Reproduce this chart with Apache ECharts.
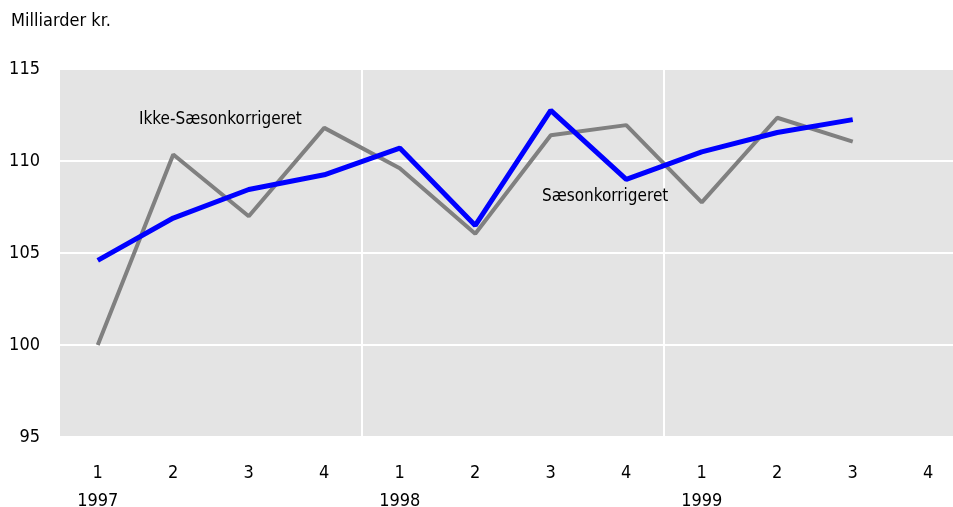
<!DOCTYPE html>
<html>
<head>
<meta charset="utf-8">
<script src="https://cdn.jsdelivr.net/npm/echarts@6/dist/echarts.min.js"></script>
<style>
  html, body { margin: 0; padding: 0; background: #fff; }
  #chart { width: 953px; height: 507px; }
</style>
</head>
<body>
<div id="chart"></div>
<script>
// kvartaler 1997-1999
const quarters = ['1', '2', '3', '4', '1', '2', '3', '4', '1', '2', '3', '4']
const years = ['1997', '', '', '', '1998', '', '', '', '1999', '', '', '']
const ikkeSaeson = [100.0, 110.35, 107.0, 111.8, 109.6, 106.05, 111.4, 111.95, 107.75, 112.35, 111.05, null]
const saeson = [104.6, 106.9, 108.45, 109.25, 110.7, 106.5, 112.75, 109.0, 110.5, 111.55, 112.25, null]

const font = "'Liberation Sans Narrow', 'DejaVu Sans Condensed', sans-serif"

const chart = echarts.init(document.getElementById('chart'))
chart.setOption({
  animation: false,
  textStyle: { fontFamily: font },
  grid: {
    left: 60,
    top: 69,
    width: 906,
    height: 368,
    containLabel: false,
    outerBoundsMode: 'none',
    show: true,
    backgroundColor: '#e4e4e4',
    borderWidth: 0
  },
  graphic: [
    { type: 'text', z: 100, left: 11, top: 12, style: { text: 'Milliarder kr.', font: '18px ' + font, fill: '#000' } },
    { type: 'text', z: 100, left: 139, top: 111, style: { text: 'Ikke-Sæsonkorrigeret', font: '17px ' + font, fill: '#000' } },
    { type: 'text', z: 100, left: 542, top: 188, style: { text: 'Sæsonkorrigeret', font: '17px ' + font, fill: '#000' } }
  ],
  xAxis: {
    type: 'category',
    data: quarters,
    boundaryGap: true,
    axisLine: { show: false },
    axisTick: { show: false },
    axisLabel: {
      margin: 22,
      color: '#000',
      formatter: (v, i) => years[i] ? '{q|' + v + '}\n{y|' + years[i] + '}' : '{q|' + v + '}',
      rich: {
        q: { fontSize: 18, lineHeight: 28, color: '#000', fontFamily: font },
        y: { fontSize: 18, lineHeight: 28, color: '#000', fontFamily: font }
      }
    },
    splitLine: {
      show: true,
      interval: (i) => i === 4 || i === 8,
      lineStyle: { color: '#fff', width: 2 }
    }
  },
  yAxis: {
    type: 'value',
    min: 95,
    max: 115,
    interval: 5,
    axisLine: { show: false },
    axisTick: { show: false },
    axisLabel: { margin: 20, color: '#000', fontSize: 18 },
    splitLine: { lineStyle: { color: '#fff', width: 2 } }
  },
  series: [
    {
      name: 'Ikke-Sæsonkorrigeret',
      type: 'line',
      data: ikkeSaeson,
      symbol: 'none',
      lineStyle: { color: '#808080', width: 4 },
      z: 2
    },
    {
      name: 'Sæsonkorrigeret',
      type: 'line',
      data: saeson,
      symbol: 'none',
      lineStyle: { color: '#0000ff', width: 5 },
      z: 3
    }
  ]
})
</script>
</body>
</html>
